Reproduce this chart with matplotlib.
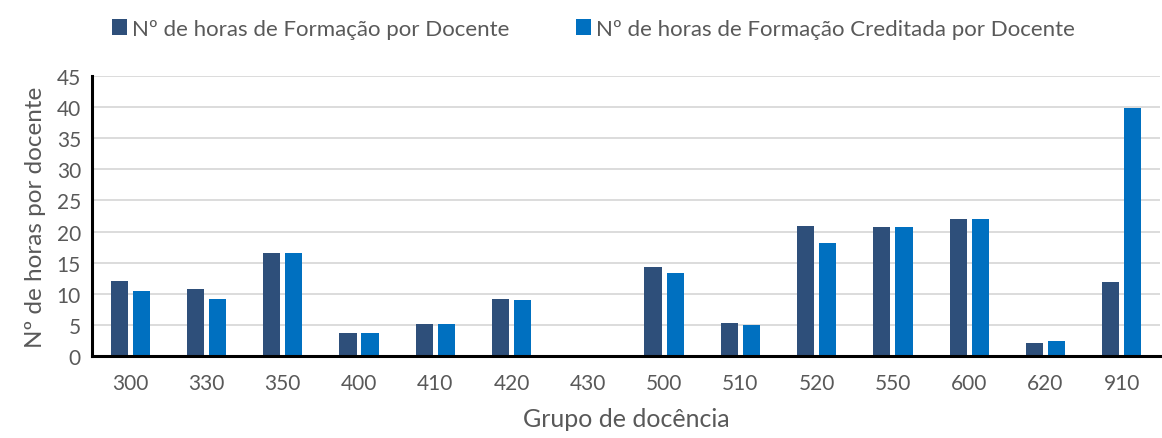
import matplotlib
matplotlib.use("Agg")
import matplotlib.pyplot as plt
import numpy as np

categories = ["300", "330", "350", "400", "410", "420", "430", "500", "510", "520", "550", "600", "620", "910"]
horas_formacao = [12.1, 10.7, 16.6, 3.65, 5.2, 9.1, 0, 14.3, 5.25, 20.85, 20.75, 22.0, 2.1, 11.9]
horas_creditada = [10.5, 9.1, 16.6, 3.65, 5.2, 9.0, 0, 13.35, 4.95, 18.2, 20.75, 22.0, 2.35, 39.9]
series_names = ["Nº de horas de Formação por Docente", "Nº de horas de Formação Creditada por Docente"]
colors = ["#2E4F7A", "#0070C0"]

plt.rcParams['font.family'] = ['Lato', 'DejaVu Sans']
text_color = "#595959"

fig = plt.figure(figsize=(11.62, 4.39), dpi=100)
ax = fig.add_axes([0.0792, 0.1868, 0.9190, 0.6378])

x = np.arange(len(categories))
w = 0.225
off = 0.145
ax.bar(x - off, horas_formacao, width=w, color=colors[0], label=series_names[0], zorder=3)
ax.bar(x + off, horas_creditada, width=w, color=colors[1], label=series_names[1], zorder=3)

ax.set_xlim(-0.5, len(categories) - 0.5)
ax.set_ylim(0, 45)
ax.set_yticks(np.arange(0, 46, 5))
ax.set_xticks(x)
ax.set_xticklabels(categories)
ax.tick_params(axis='both', length=0, labelsize=15, colors=text_color)
ax.tick_params(axis='x', pad=12)
ax.tick_params(axis='y', pad=8)
ax.grid(axis='y', color='#D9D9D9', linewidth=1.3, zorder=0)
for s in ['top', 'right']:
    ax.spines[s].set_visible(False)
for s in ['left', 'bottom']:
    ax.spines[s].set_color('black')
    ax.spines[s].set_linewidth(2.2)
    ax.spines[s].set_zorder(4)

ax.set_xlabel("Grupo de docência", fontsize=18, color=text_color, labelpad=10)
ax.set_ylabel("Nº de horas por docente", fontsize=17.5, color=text_color, labelpad=8)

leg = fig.legend(loc='upper left', bbox_to_anchor=(0.079, 1.0), ncol=2, frameon=False,
                 fontsize=16, handlelength=0.7, handleheight=0.7, handletextpad=0.2,
                 columnspacing=3.0)
for t in leg.get_texts():
    t.set_color(text_color)

fig.savefig("out.png", dpi=100)
